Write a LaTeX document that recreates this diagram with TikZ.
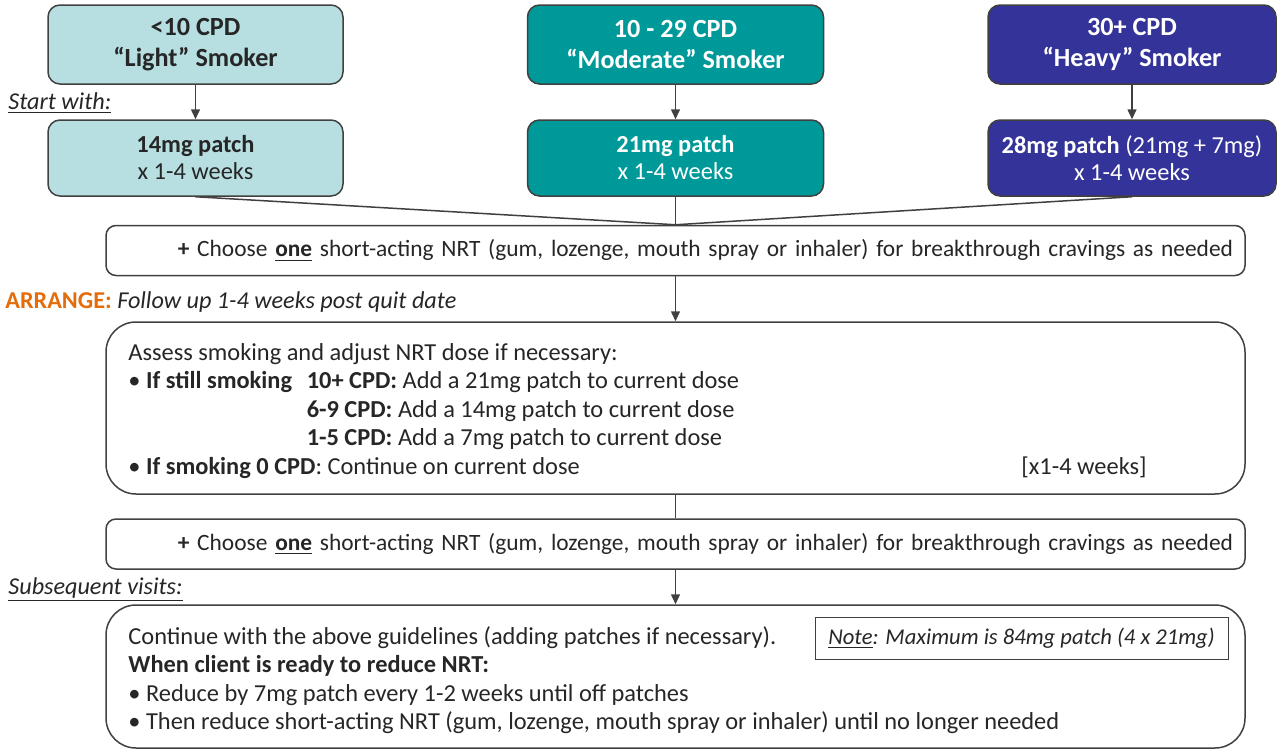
\documentclass[tikz,border=0pt]{standalone}
\usepackage{fontspec}
\setmainfont{Carlito}
\usetikzlibrary{arrows.meta}

\definecolor{lightfill}{RGB}{183,223,226}
\definecolor{tealfill}{RGB}{0,153,153}
\definecolor{navyfill}{RGB}{51,51,153}
\definecolor{arrangeorange}{RGB}{228,108,10}
\definecolor{linegray}{RGB}{64,64,64}
\definecolor{textgray}{RGB}{38,38,38}

\begin{document}
\begin{tikzpicture}[x=0.5pt, y=-0.5pt,
    every node/.style={text=textgray},
    smoker/.style={draw=linegray, line width=0.75pt, rounded corners=6pt, minimum height=39.5pt,
        align=center, font=\fontsize{13.1}{15.5}\selectfont\bfseries},
    patch/.style={draw=linegray, line width=0.75pt, rounded corners=6pt, minimum height=38pt,
        align=center, font=\fontsize{12.2}{13.5}\selectfont},
    nrt/.style={draw=linegray, line width=0.75pt, rounded corners=5pt, minimum height=25pt,
        inner xsep=6pt, text width=557.5pt, align=right, font=\fontsize{11.7}{13.5}\selectfont},
    stage/.style={draw=linegray, line width=0.75pt, rounded corners=15pt, minimum width=569.5pt},
    body/.style={anchor=base west, inner sep=0pt, font=\fontsize{12.2}{14.3}\selectfont},
    side/.style={anchor=base west, inner sep=0pt, font=\fontsize{12.1}{13.5}\selectfont\itshape},
    conn/.style={draw=linegray, line width=0.75pt},
    arr/.style={conn, -{Triangle[length=5pt, width=4.5pt]}}]%
    \useasboundingbox (0, 0) rectangle (1280, 750);

    \node[smoker, fill=lightfill, minimum width=147.5pt] (light) at (195.5, 44.5) {<10 CPD\\“Light” Smoker};
    \node[smoker, fill=tealfill, text=white, minimum width=148pt] (moderate) at (675.5, 44.5) {10 - 29 CPD\\“Moderate” Smoker};
    \node[smoker, fill=navyfill, text=white, minimum width=144pt] (heavy) at (1132, 44.5) {30+ CPD\\“Heavy” Smoker};

    \node[patch, fill=lightfill, minimum width=147.5pt] (lightpatch) at (195.5, 158) {\textbf{14mg patch}\\x 1-4 weeks};
    \node[patch, fill=tealfill, text=white, minimum width=148pt] (moderatepatch) at (675.5, 158) {\textbf{21mg patch}\\x 1-4 weeks};
    \node[patch, fill=navyfill, text=white, minimum width=144pt] (heavypatch) at (1132, 158) {\textbf{28mg patch} (21mg + 7mg)\\x 1-4 weeks};

    \node[side] (startwith) at (8, 109) {\underline{Start with:}};

    \node[nrt] (nrtone) at (675.5, 250.5) {\textbf{+} Choose \underline{\textbf{one}} short-acting NRT (gum, lozenge, mouth spray or inhaler) for breakthrough cravings as needed};

    \node[side] (arrange) at (5, 308) {{\upshape\bfseries\color{arrangeorange}ARRANGE:} Follow up 1-4 weeks post quit date};

    \node[stage, minimum height=86pt] (assess) at (675.5, 408) {};
    \node[body] (assesstext) at (128, 360) {\begin{tabular}[t]{@{}l@{\hspace{0.6em}}l@{}}
        \multicolumn{2}{@{}l@{}}{Assess smoking and adjust NRT dose if necessary:}\\
        \textbullet\ \textbf{If still smoking} & \textbf{10+ CPD:} Add a 21mg patch to current dose\\
        & \textbf{6-9 CPD:} Add a 14mg patch to current dose\\
        & \textbf{1-5 CPD:} Add a 7mg patch to current dose\\
        \multicolumn{2}{@{}l@{}}{\textbullet\ \textbf{If smoking 0 CPD}: Continue on current dose}
    \end{tabular}};
    \node[body, anchor=base east] (weeks) at (1147, 474) {[x1-4 weeks]};

    \node[nrt] (nrttwo) at (675.5, 544) {\textbf{+} Choose \underline{\textbf{one}} short-acting NRT (gum, lozenge, mouth spray or inhaler) for breakthrough cravings as needed};

    \node[side] (subsequent) at (8, 594) {\underline{Subsequent visits:}};

    \node[stage, minimum height=71.5pt] (later) at (675.5, 676.5) {};
    \node[body] (latertext) at (128, 644) {\begin{tabular}[t]{@{}l@{}}
        Continue with the above guidelines (adding patches if necessary).\\
        \textbf{When client is ready to reduce NRT:}\\
        \textbullet\ Reduce by 7mg patch every 1-2 weeks until off patches\\
        \textbullet\ Then reduce short-acting NRT (gum, lozenge, mouth spray or inhaler) until no longer needed
    \end{tabular}};
    \node[draw=linegray, line width=0.5pt, minimum width=206.5pt, minimum height=21pt,
        font=\fontsize{11.3}{12.5}\selectfont\itshape] (note) at (1021.5, 638) {\underline{Note}: Maximum is 84mg patch (4 x 21mg)};

    \draw[arr] (light) -- (lightpatch);
    \draw[arr] (moderate) -- (moderatepatch);
    \draw[arr] (heavy) -- (heavypatch);
    \draw[conn] (lightpatch.south) -- (nrtone.north);
    \draw[conn] (moderatepatch.south) -- (nrtone.north);
    \draw[conn] (heavypatch.south) -- (nrtone.north);
    \draw[arr] (nrtone) -- (assess);
    \draw[conn] (assess) -- (nrttwo);
    \draw[arr] (nrttwo) -- (later);
\end{tikzpicture}
\end{document}
